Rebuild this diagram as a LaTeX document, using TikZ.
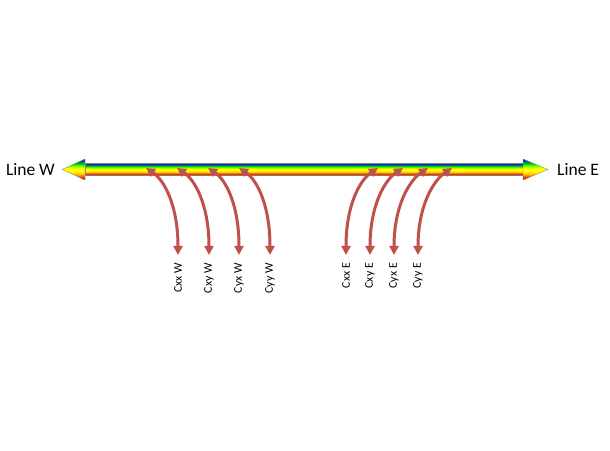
\documentclass[tikz,border=0pt]{standalone}
\usepackage{fontspec}
\setmainfont{Carlito}
\usetikzlibrary{arrows.meta}
\definecolor{arrowred}{RGB}{192,80,77}
\pgfdeclareverticalshading{rainbowbar}{100bp}{%
  color(0bp)=(red!80!magenta);
  color(25bp)=(red!80!magenta);
  color(29bp)=(red!90!black);
  color(34bp)=(orange!80!red);
  color(40bp)=(orange!40!yellow);
  color(46bp)=(yellow);
  color(53bp)=(yellow);
  color(59bp)=(yellow!40!green);
  color(65bp)=(green!75!black);
  color(70bp)=(teal!70!blue);
  color(75bp)=(blue!80!violet);
  color(100bp)=(blue!80!violet)}
\tikzset{
  barlabel/.style={font=\fontsize{17.5}{20}\selectfont, inner sep=0pt},
  clabel/.style={font=\fontsize{11.8}{13}\selectfont, inner sep=0pt, rotate=90, anchor=east},
  barpart/.style={shading=rainbowbar, draw=black!50, line width=0.3pt},
  carrow/.style={draw=arrowred, line width=3pt,
    {Triangle[length=9pt,width=9pt]}-{Triangle[length=9pt,width=9pt]}},
}
\begin{document}
\begin{tikzpicture}[x=1pt,y=1pt]
\useasboundingbox (0,0) rectangle (610,450);
% bar
\coordinate (tipW) at (62,280.5);
\coordinate (tipE) at (548,280.5);
\shade[barpart] (85,286.5) rectangle (523,274.5);
\shade[barpart] (tipW) -- (85,291) -- (85,270) -- cycle;
\shade[barpart] (tipE) -- (523,291) -- (523,270) -- cycle;
\node[barlabel, anchor=east] (LW) at (55,280.5) {Line W};
\node[barlabel, anchor=west] (LE) at (557,280.5) {Line E};
% label nodes
\node[clabel] (l1) at (178,187) {Cxx W};
\node[clabel] (l2) at (209,187) {Cxy W};
\node[clabel] (l3) at (239,187) {Cyx W};
\node[clabel] (l4) at (270,187) {Cyy W};
\node[clabel] (r1) at (346,187) {Cxx E};
\node[clabel] (r2) at (370,187) {Cxy E};
\node[clabel] (r3) at (394,187) {Cyx E};
\node[clabel] (r4) at (418,187) {Cyy E};
% attachment points on the bar
\coordinate (tl1) at (146,282);
\coordinate (tl2) at (177,282);
\coordinate (tl3) at (208,282);
\coordinate (tl4) at (239,282);
\coordinate (tr1) at (378,282);
\coordinate (tr2) at (403,282);
\coordinate (tr3) at (428,282);
\coordinate (tr4) at (452,282);
% lower ends above labels
\foreach \n in {l1,l2,l3,l4,r1,r2,r3,r4}{
  \coordinate (b\n) at ([yshift=8pt]\n.east);
}
\foreach \n in {l1,l2,l3,l4}{
  \draw[carrow] (t\n) .. controls +(18,-12) and +(0,50) .. (b\n);
}
\foreach \n in {r1,r2,r3,r4}{
  \draw[carrow] (t\n) .. controls +(-18,-12) and +(0,50) .. (b\n);
}
\end{tikzpicture}
\end{document}
